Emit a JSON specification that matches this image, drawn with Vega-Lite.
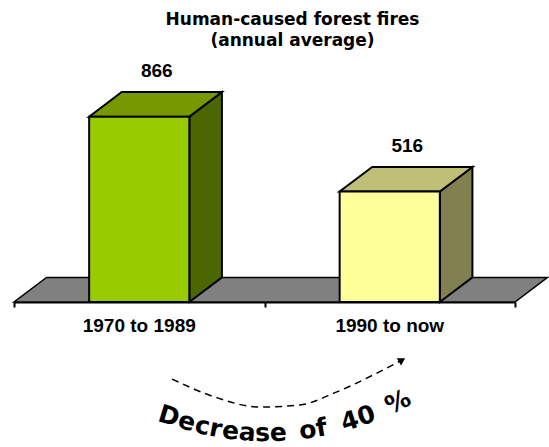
{
  "$schema": "https://vega.github.io/schema/vega-lite/v6.json",
  "width": 501,
  "height": 247,
  "autosize": {"type": "none"},
  "padding": {"left": 14, "top": 55, "right": 34, "bottom": 145},
  "background": "white",
  "title": {
    "text": ["Human-caused forest fires", "(annual average)"],
    "font": "DejaVu Sans",
    "fontWeight": "bold",
    "fontSize": 17,
    "lineHeight": 21,
    "color": "black",
    "anchor": "middle",
    "dx": 28,
    "offset": 5
  },
  "datasets": {
    "fires": [
      {"period": "1970 to 1989", "idx": 0, "value": 866},
      {"period": "1990 to now", "idx": 1, "value": 516}
    ],
    "arrow": [
      {"ax": 0.131, "ay": -360},
      {"ax": 0.302, "ay": -444},
      {"ax": 0.482, "ay": -491},
      {"ax": 0.642, "ay": -481},
      {"ax": 0.789, "ay": -420},
      {"ax": 0.949, "ay": -332},
      {"ax": 1.041, "ay": -276}
    ]
  },
  "data": {"name": "fires"},
  "layer": [
    {
      "transform": [
        {"filter": "datum.idx == 0"},
        {"calculate": "[0,1,2,3]", "as": "k"},
        {"flatten": ["k"]},
        {"calculate": "[-0.5, -0.37, 1.5, 1.63][datum.k]", "as": "fx"},
        {"calculate": "datum.k == 3 ? 115 : 0", "as": "fy"},
        {"calculate": "datum.k == 0 ? 0 : 115", "as": "fy2"}
      ],
      "mark": {"type": "area", "orient": "vertical", "fill": "#808080", "stroke": "black", "strokeWidth": 1.5, "strokeJoin": "miter"},
      "encoding": {
        "x": {"field": "fx", "type": "quantitative", "title": null,
              "scale": {"domain": [-0.5, 1.5], "nice": false, "zero": false},
              "axis": {"values": [-0.5, 0.5, 1.5], "labels": false, "grid": false, "title": null, "domainColor": "black", "domainWidth": 2, "tickColor": "black", "tickWidth": 2, "tickSize": 5}},
        "y": {"field": "fy", "type": "quantitative", "axis": null,
              "scale": {"domain": [0, 1154], "nice": false, "zero": false}},
        "y2": {"field": "fy2"}
      }
    },
    {
      "transform": [
        {"calculate": "[0,1]", "as": "k"},
        {"flatten": ["k"]},
        {"calculate": "datum.idx + 0.2 + datum.k * 0.13", "as": "sx"},
        {"calculate": "datum.k * 115", "as": "sy"},
        {"calculate": "datum.value + datum.k * 115", "as": "sy2"}
      ],
      "mark": {"type": "area", "orient": "vertical", "stroke": "black", "strokeWidth": 2, "strokeJoin": "miter"},
      "encoding": {
        "x": {"field": "sx", "type": "quantitative", "title": null},
        "y": {"field": "sy", "type": "quantitative", "axis": null},
        "y2": {"field": "sy2"},
        "detail": {"field": "period", "type": "nominal"},
        "fill": {"condition": {"test": "datum.idx == 0", "value": "#4C6600"}, "value": "#808050"}
      }
    },
    {
      "transform": [
        {"calculate": "[0,1,2,3]", "as": "k"},
        {"flatten": ["k"]},
        {"calculate": "[datum.idx - 0.2, datum.idx - 0.07, datum.idx + 0.2, datum.idx + 0.33][datum.k]", "as": "tx"},
        {"calculate": "datum.k == 3 ? datum.value + 115 : datum.value", "as": "ty"},
        {"calculate": "datum.k == 0 ? datum.value : datum.value + 115", "as": "ty2"}
      ],
      "mark": {"type": "area", "orient": "vertical", "stroke": "black", "strokeWidth": 2, "strokeJoin": "miter"},
      "encoding": {
        "x": {"field": "tx", "type": "quantitative", "title": null},
        "y": {"field": "ty", "type": "quantitative", "axis": null},
        "y2": {"field": "ty2"},
        "detail": {"field": "period", "type": "nominal"},
        "fill": {"condition": {"test": "datum.idx == 0", "value": "#779900"}, "value": "#BFBF78"}
      }
    },
    {
      "transform": [
        {"calculate": "datum.idx - 0.2", "as": "x0"},
        {"calculate": "datum.idx + 0.2", "as": "x1"},
        {"calculate": "0", "as": "base"}
      ],
      "mark": {"type": "rect", "stroke": "black", "strokeWidth": 2, "strokeJoin": "miter"},
      "encoding": {
        "x": {"field": "x0", "type": "quantitative", "title": null},
        "x2": {"field": "x1"},
        "y": {"field": "value", "type": "quantitative", "axis": null},
        "y2": {"field": "base"},
        "fill": {"condition": {"test": "datum.idx == 0", "value": "#99CC00"}, "value": "#FFFF99"}
      }
    },
    {
      "transform": [{"calculate": "datum.idx + 0.07", "as": "lx"}],
      "mark": {"type": "text", "font": "Liberation Sans", "fontWeight": "bold", "fontSize": 19, "baseline": "middle", "align": "center", "dy": -46, "color": "black"},
      "encoding": {
        "x": {"field": "lx", "type": "quantitative", "title": null},
        "y": {"field": "value", "type": "quantitative", "axis": null},
        "text": {"field": "value", "type": "quantitative"}
      }
    },
    {
      "transform": [{"calculate": "0", "as": "base"}],
      "mark": {"type": "text", "font": "Liberation Sans", "fontWeight": "bold", "fontSize": 19, "baseline": "middle", "align": "center", "dy": 24, "color": "black"},
      "encoding": {
        "x": {"field": "idx", "type": "quantitative", "title": null},
        "y": {"field": "base", "type": "quantitative", "axis": null},
        "text": {"field": "period", "type": "nominal"}
      }
    },
    {
      "data": {"name": "arrow"},
      "mark": {"type": "line", "interpolate": "monotone", "color": "black", "strokeWidth": 1.5, "strokeDash": [7, 5]},
      "encoding": {
        "x": {"field": "ax", "type": "quantitative", "title": null},
        "y": {"field": "ay", "type": "quantitative", "axis": null}
      }
    },
    {
      "transform": [{"filter": "datum.idx == 0"}],
      "mark": {"type": "point", "shape": "triangle-up", "filled": true, "color": "black", "opacity": 1, "size": 70, "angle": 59},
      "encoding": {"x": {"datum": 1.049, "type": "quantitative", "title": null}, "y": {"datum": -271, "type": "quantitative", "axis": null}}
    },
    {
      "transform": [{"filter": "datum.idx == 0"}],
      "mark": {"type": "text", "text": "De", "angle": 17, "font": "DejaVu Sans", "fontWeight": "bold", "fontSize": 25, "baseline": "middle", "align": "center", "color": "black"},
      "encoding": {"x": {"datum": 0.1507, "type": "quantitative", "title": null}, "y": {"datum": -545, "type": "quantitative", "axis": null}}
    },
    {
      "transform": [{"filter": "datum.idx == 0"}],
      "mark": {"type": "text", "text": "cr", "angle": 11, "font": "DejaVu Sans", "fontWeight": "bold", "fontSize": 25, "baseline": "middle", "align": "center", "color": "black"},
      "encoding": {"x": {"datum": 0.2765, "type": "quantitative", "title": null}, "y": {"datum": -585, "type": "quantitative", "axis": null}}
    },
    {
      "transform": [{"filter": "datum.idx == 0"}],
      "mark": {"type": "text", "text": "ea", "angle": 5, "font": "DejaVu Sans", "fontWeight": "bold", "fontSize": 25, "baseline": "middle", "align": "center", "color": "black"},
      "encoding": {"x": {"datum": 0.3982, "type": "quantitative", "title": null}, "y": {"datum": -606, "type": "quantitative", "axis": null}}
    },
    {
      "transform": [{"filter": "datum.idx == 0"}],
      "mark": {"type": "text", "text": "se", "angle": -1, "font": "DejaVu Sans", "fontWeight": "bold", "fontSize": 25, "baseline": "middle", "align": "center", "color": "black"},
      "encoding": {"x": {"datum": 0.5259, "type": "quantitative", "title": null}, "y": {"datum": -612, "type": "quantitative", "axis": null}}
    },
    {
      "transform": [{"filter": "datum.idx == 0"}],
      "mark": {"type": "text", "text": "of", "angle": -9, "font": "DejaVu Sans", "fontWeight": "bold", "fontSize": 25, "baseline": "middle", "align": "center", "color": "black"},
      "encoding": {"x": {"datum": 0.6936, "type": "quantitative", "title": null}, "y": {"datum": -595, "type": "quantitative", "axis": null}}
    },
    {
      "transform": [{"filter": "datum.idx == 0"}],
      "mark": {"type": "text", "text": "40", "angle": -18, "font": "DejaVu Sans", "fontWeight": "bold", "fontSize": 25, "baseline": "middle", "align": "center", "color": "black"},
      "encoding": {"x": {"datum": 0.8733, "type": "quantitative", "title": null}, "y": {"datum": -544, "type": "quantitative", "axis": null}}
    },
    {
      "transform": [{"filter": "datum.idx == 0"}],
      "mark": {"type": "text", "text": "%", "angle": -26, "font": "DejaVu Sans", "fontWeight": "bold", "fontSize": 25, "baseline": "middle", "align": "center", "color": "black"},
      "encoding": {"x": {"datum": 1.0329, "type": "quantitative", "title": null}, "y": {"datum": -467, "type": "quantitative", "axis": null}}
    }
  ],
  "config": {"view": {"stroke": null}}
}
